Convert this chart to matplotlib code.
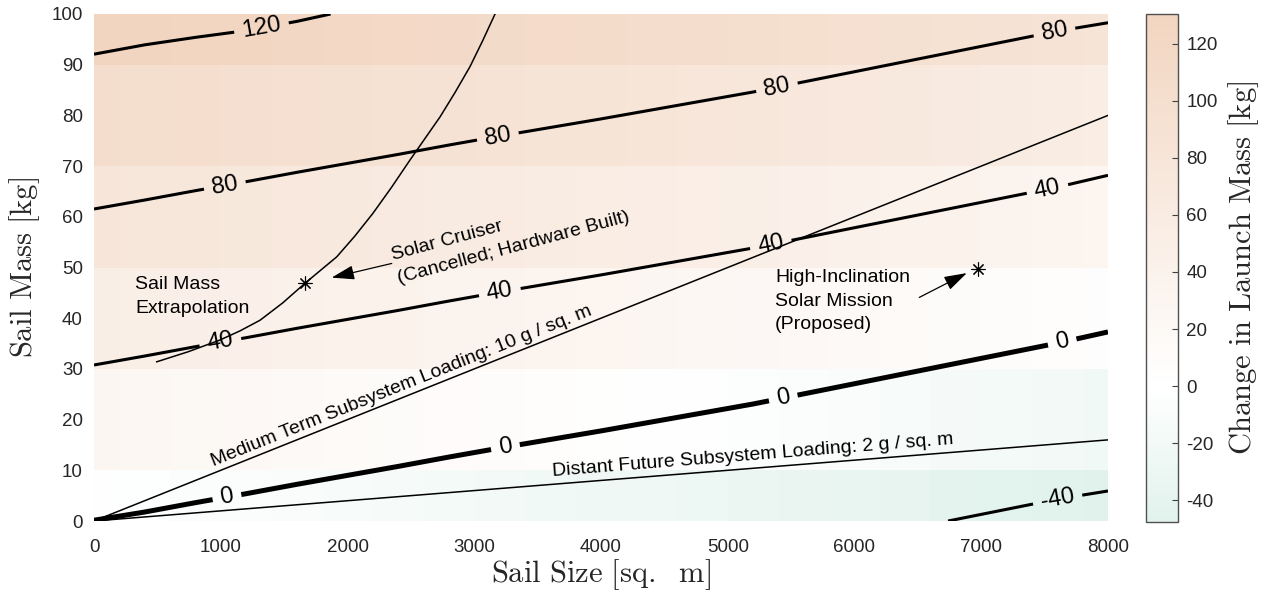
import numpy as np
import matplotlib
matplotlib.use("Agg")
import matplotlib.pyplot as plt
from matplotlib.colors import LinearSegmentedColormap

plt.rcParams['font.family'] = ['Liberation Sans', 'DejaVu Sans']
plt.rcParams['mathtext.fontset'] = 'cm'
plt.rcParams['contour.negative_linestyle'] = 'solid'
plt.rcParams['axes.unicode_minus'] = False

# ---------------- data ----------------
sail_size_grid = [0, 400, 800, 1200, 1600, 2000, 2400, 2800, 3200, 3600, 4000,
                  4400, 4800, 5200, 5600, 6000, 6400, 6800, 7200, 7600, 8000]
sail_mass_grid = [0, 20, 40, 60, 80, 100]
delta_launch_mass = [
    [-0.2, -2.3, -4.7, -7.0, -9.4, -11.7, -14.0, -16.4, -18.7, -20.9, -23.1,
     -25.4, -27.7, -30.0, -32.6, -35.2, -37.8, -40.4, -43.0, -45.6, -47.7],
    [26.0, 23.7, 21.3, 19.0, 16.6, 14.3, 12.0, 9.6, 7.3, 5.1, 2.9,
     0.6, -1.7, -4.0, -6.6, -9.2, -11.8, -14.4, -17.0, -19.6, -21.7],
    [52.0, 49.7, 47.3, 45.0, 42.6, 40.3, 38.0, 35.6, 33.3, 31.1, 28.9,
     26.6, 24.3, 22.0, 19.4, 16.8, 14.2, 11.6, 9.0, 6.4, 3.4],
    [78.0, 75.7, 73.3, 71.0, 68.6, 66.3, 64.0, 61.6, 59.3, 57.1, 54.9,
     52.6, 50.3, 48.0, 45.4, 42.8, 40.2, 37.6, 35.0, 32.4, 29.2],
    [104.0, 101.7, 99.3, 97.0, 94.6, 92.3, 90.0, 87.6, 85.3, 83.1, 80.9,
     78.6, 76.3, 74.0, 71.4, 68.8, 66.2, 63.6, 61.0, 58.4, 55.6],
    [130.5, 128.0, 126.2, 124.5, 122.0, 119.0, 116.0, 113.6, 111.3, 109.1, 106.9,
     104.6, 102.3, 100.0, 97.4, 94.8, 92.2, 89.6, 87.0, 84.4, 82.3],
]
contour_levels = [-40, 0, 40, 80, 120]
contour_widths = [2.2, 3.6, 2.2, 2.2, 2.2]
contour_label_positions = [
    (7606, 3.7),
    (1049, 4.7), (3243, 15.0), (5436, 24.5), (7637, 35.5),
    (994, 35.7), (3203, 45.0), (5333, 55.4), (7519, 65.9),
    (1034, 65.9), (3187, 75.7), (5389, 85.4), (7582, 95.9),
    (1325, 96.8),
]

extrap_size = [495, 745, 994, 1152, 1310, 1488, 1665, 1915, 2058, 2201, 2347,
               2493, 2730, 2848, 2966, 3064, 3164]
extrap_mass = [31.4, 33.4, 35.7, 37.5, 39.6, 43.0, 46.9, 52.1, 56.2, 60.7, 65.8,
               71.2, 79.7, 84.5, 89.6, 94.6, 100.0]

medium_size = [0, 8000]
medium_mass = [0, 80]
distant_size = [0, 8000]
distant_mass = [0, 16]

mission_size = [1665, 6977]
mission_mass = [46.9, 49.8]

x_ticks = [0, 1000, 2000, 3000, 4000, 5000, 6000, 7000, 8000]
y_ticks = [0, 10, 20, 30, 40, 50, 60, 70, 80, 90, 100]
cbar_ticks = [-40, -20, 0, 20, 40, 60, 80, 100, 120]

# ---------------- figure ----------------
W, H = 1267, 594
fig = plt.figure(figsize=(W / 100, H / 100), dpi=100)
ax = fig.add_axes([94 / W, (H - 521) / H, 1014 / W, 507 / H])
cax = fig.add_axes([1146 / W, (H - 522) / H, 32 / W, 508 / H])

Z = np.array(delta_launch_mass)
xs = np.array(sail_size_grid)
ys = np.array(sail_mass_grid)
zmin, zmax = Z.min(), Z.max()
wpos = (0 - zmin) / (zmax - zmin)
cmap = LinearSegmentedColormap.from_list(
    'launch', [(0.0, '#E1F2EC'), (wpos, '#FFFFFF'), (1.0, '#F2D5C0')])

dx = xs[1] - xs[0]
dy = ys[1] - ys[0]
im = ax.imshow(Z, origin='lower', cmap=cmap, aspect='auto',
               interpolation='nearest',
               extent=[xs[0] - dx / 2, xs[-1] + dx / 2, ys[0] - dy / 2, ys[-1] + dy / 2],
               zorder=1)
ax.set_xlim(0, 8000)
ax.set_ylim(0, 100)

X, Y = np.meshgrid(xs, ys)
cs = ax.contour(X, Y, Z, levels=contour_levels, colors='k',
                linewidths=contour_widths, linestyles='solid', zorder=3)
ax.clabel(cs, manual=contour_label_positions, inline=True, fmt='%d',
          fontsize=17, inline_spacing=8)

ax.plot(medium_size, medium_mass, color='k', lw=1.1, zorder=4)
ax.plot(distant_size, distant_mass, color='k', lw=1.1, zorder=4)
ax.plot(extrap_size, extrap_mass, color='k', lw=1.1, zorder=4)
ax.plot(mission_size, mission_mass, ls='none', marker=(8, 2, 0),
        markersize=10, markeredgewidth=0.8, color='k', zorder=5)


def disp_angle(p0, p1):
    a = ax.transData.transform(p0)
    b = ax.transData.transform(p1)
    return np.degrees(np.arctan2(b[1] - a[1], b[0] - a[0]))


fs = 14
ls_txt = 1.5
ang_med = disp_angle((medium_size[0], medium_mass[0]), (medium_size[1], medium_mass[1]))
ax.text(2450, 24.5 + 0.6, 'Medium Term Subsystem Loading: 10 g / sq. m', fontsize=fs,
        rotation=ang_med, rotation_mode='anchor', ha='center', va='bottom', zorder=6)
ang_dis = disp_angle((distant_size[0], distant_mass[0]), (distant_size[1], distant_mass[1]))
ax.text(5200, 10.4 + 0.8, 'Distant Future Subsystem Loading: 2 g / sq. m', fontsize=fs,
        rotation=ang_dis, rotation_mode='anchor', ha='center', va='bottom', zorder=6)

ax.text(323, 44.3, 'Sail Mass\nExtrapolation', fontsize=fs, ha='left', va='center',
        linespacing=ls_txt, zorder=6)

arrow_props = dict(arrowstyle='-|>,head_length=0.7,head_width=0.22', color='k', lw=0.9,
                   shrinkA=0, shrinkB=0, mutation_scale=20)
ax.annotate('', xy=(1875, 48.0), xytext=(2349, 50.8), arrowprops=arrow_props, zorder=6)
ax.text(2370, 50.0, 'Solar Cruiser\n(Cancelled; Hardware Built)', fontsize=fs,
        rotation=15, rotation_mode='anchor', ha='left', va='center',
        linespacing=ls_txt, zorder=6)

ax.annotate('', xy=(6886, 48.9), xytext=(6511, 44.1), arrowprops=arrow_props, zorder=6)
ax.text(5373, 43.3, 'High-Inclination\nSolar Mission\n(Proposed)', fontsize=fs,
        ha='left', va='center', linespacing=ls_txt, zorder=6)

# axes styling
for s in ax.spines.values():
    s.set_visible(False)
ax.set_axisbelow(True)
ax.set_xticks(x_ticks)
ax.set_yticks(y_ticks)
ax.tick_params(axis='both', direction='in', length=0, labelsize=13.5,
               labelcolor='#262626')
ax.tick_params(axis='x', pad=13)
ax.tick_params(axis='y', pad=8)
ax.set_xlabel(r'$\mathrm{Sail\ Size\ [sq.\ \ m]}$', fontsize=22, color='#262626')
ax.set_ylabel(r'$\mathrm{Sail\ Mass\ [kg]}$', fontsize=22, color='#262626')
ax.xaxis.set_label_coords(0.5, -0.071)
ax.yaxis.set_label_coords(-0.051, 0.5)

cb = fig.colorbar(im, cax=cax)
cb.set_ticks(cbar_ticks)
cax.tick_params(direction='in', length=4, width=0.8, color='#404040',
                labelsize=13.5, labelcolor='#262626', pad=6)
cb.outline.set_edgecolor('#505050')
cb.outline.set_linewidth(1.0)
cb.set_label(r'$\mathrm{Change\ in\ Launch\ Mass\ [kg]}$', fontsize=22, color='#262626')
cax.yaxis.set_label_coords(2.5, 0.5)

fig.savefig('out.png', dpi=100)
